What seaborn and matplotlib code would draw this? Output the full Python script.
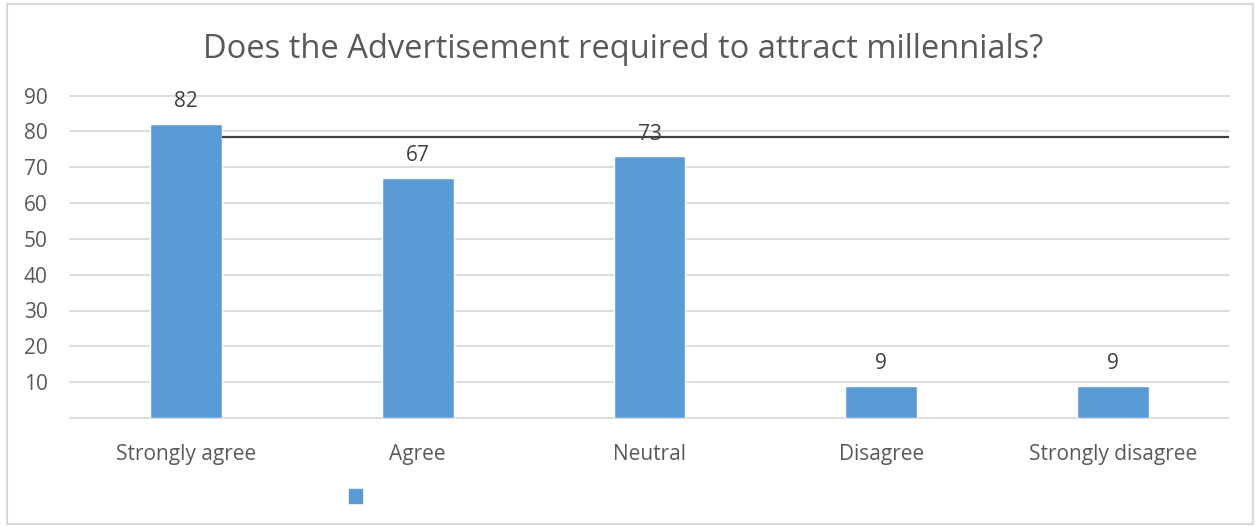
import matplotlib
matplotlib.use("Agg")
import matplotlib.pyplot as plt
from matplotlib.patches import Patch, Rectangle
import seaborn as sns

# Survey responses
categories = ["Strongly agree", "Agree", "Neutral", "Disagree", "Strongly disagree"]
responses = [82, 67, 73, 9, 9]
y_ticks = [10, 20, 30, 40, 50, 60, 70, 80, 90]
reference_level = 78.5
title = "Does the Advertisement required to attract millennials?"

BAR = "#5B9BD5"
TEXT = "#595959"
GRID = "#D9D9D9"

sns.set_theme(style="white")
plt.rcParams["font.family"] = ["Open Sans", "DejaVu Sans"]

fig = plt.figure(figsize=(12.58, 5.26), dpi=100)
ax = fig.add_axes([70 / 1258, 1 - 418 / 526, (1229 - 70) / 1258, (418 - 95.5) / 526])

# light frame around the whole chart
fig.patches.append(Rectangle((7 / 1258, 2 / 526), 1246 / 1258, 520 / 526,
                             transform=fig.transFigure, fill=False,
                             edgecolor=GRID, linewidth=1.5))

sns.barplot(x=categories, y=responses, color=BAR, saturation=1, width=0.31,
            ax=ax, zorder=3)

ax.set_xlim(-0.5, len(categories) - 0.5)
ax.set_ylim(0, 90)

# horizontal gridlines every 10 units, including the baseline
for v in range(0, 91, 10):
    ax.axhline(v, color=GRID, linewidth=1.3, zorder=1, clip_on=False)

ax.set_yticks(y_ticks)
ax.set_yticklabels([str(t) for t in y_ticks])
ax.tick_params(axis="y", length=0, pad=16, labelsize=15, labelcolor=TEXT)
ax.tick_params(axis="x", length=0, pad=19, labelsize=15, labelcolor=TEXT)

for s in ax.spines.values():
    s.set_visible(False)
ax.set_xlabel("")
ax.set_ylabel("")

# value labels above bars
for i, v in enumerate(responses):
    ax.annotate(str(v), (i, v), xytext=(0, 16), textcoords="offset points",
                ha="center", va="center", fontsize=15, color="#404040", zorder=5)

# reference line
ax.hlines(reference_level, 0 + 0.155, len(categories) - 0.5, color="#404040",
          linewidth=1.6, zorder=4)

fig.text(623 / 1258, 1 - 49 / 526, title, ha="center", va="center",
         fontsize=23.5, color=TEXT)

# legend: single swatch, no text
fig.legend(handles=[Patch(facecolor=BAR, edgecolor=BAR)], labels=[" "],
           loc="center", bbox_to_anchor=(366 / 1258, 1 - 498 / 526),
           frameon=False, handlelength=0.7, handleheight=0.7, fontsize=14)

fig.savefig("out.png", dpi=100)
